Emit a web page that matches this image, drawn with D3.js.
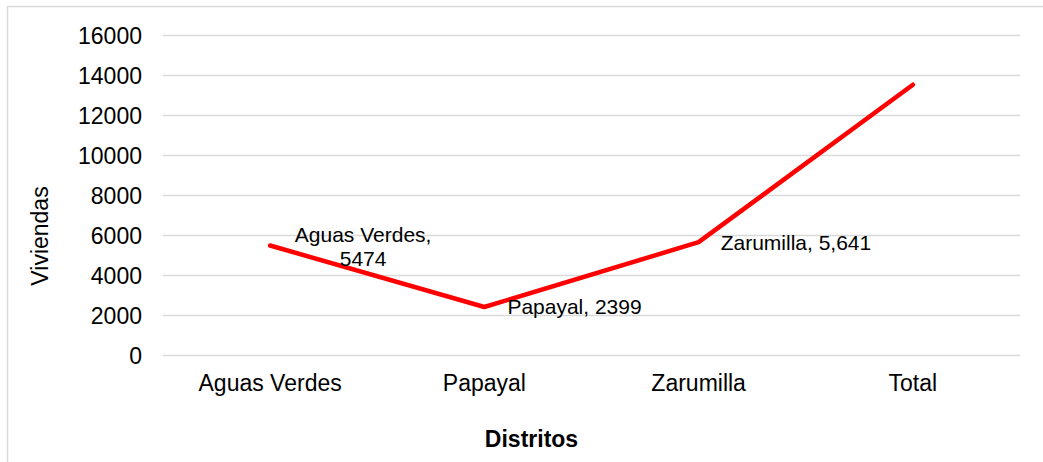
<!DOCTYPE html>
<html>
<head>
<meta charset="utf-8">
<script src="https://cdn.jsdelivr.net/npm/d3@7"></script>
<style>
body{margin:0;background:#fff;}
svg{display:block;font-family:"Liberation Sans",Arial,sans-serif;}
.tick text{fill:#000;font-size:23px;}
.tick line{stroke:#d9d9d9;stroke-width:1.5;}
</style>
</head>
<body>
<svg width="1043" height="462"></svg>
<script>
// data
var categories = ["Aguas Verdes","Papayal","Zarumilla","Total"];
var viviendas = [5474, 2399, 5641, 13514];
var yTicks = [0,2000,4000,6000,8000,10000,12000,14000,16000];
// data label text per point (null = no label), lines split
var pointLabels = [["Aguas Verdes,","5474"],["Papayal, 2399"],["Zarumilla, 5,641"],null];

var svg = d3.select("svg");

// outer chart border
svg.append("rect")
    .attr("x",7.5).attr("y",6.5)
    .attr("width",1100).attr("height",500)
    .attr("fill","none")
    .attr("stroke","#d9d9d9")
    .attr("stroke-width",1.5);

var plot = {left:163, right:1020, top:35, bottom:355};

var xScale = d3.scaleBand()
    .domain(categories)
    .range([plot.left,plot.right]);
var yScale = d3.scaleLinear()
    .domain([0,16000])
    .range([plot.bottom,plot.top]);

var cx = function(c){ return xScale(c)+xScale.bandwidth()/2; }

// y axis + gridlines
var yAxis = d3.axisLeft(yScale)
    .tickValues(yTicks)
    .tickFormat(d3.format("d"))
    .tickSize(-(plot.right-plot.left))
    .tickPadding(21);
svg.append("g")
    .attr("transform","translate("+plot.left+",0)")
    .call(yAxis)
    .call(function(g){ g.select(".domain").remove(); })
    .selectAll("text").attr("dy","0.36em");

// x axis labels
var xAxis = d3.axisBottom(xScale).tickSize(0).tickPadding(20);
svg.append("g")
    .attr("transform","translate(0,"+plot.bottom+")")
    .call(xAxis)
    .call(function(g){ g.select(".domain").remove(); })
    .selectAll("text").attr("dy","0.71em");

// line
var line = d3.line()
    .x(function(d,i){ return cx(categories[i]); })
    .y(function(d){ return yScale(d); });
svg.append("path")
    .datum(viviendas)
    .attr("fill","none")
    .attr("stroke","#ff0000")
    .attr("stroke-width",4.5)
    .attr("stroke-linejoin","round")
    .attr("stroke-linecap","round")
    .attr("d",line);

// data labels
var labelPos = [
    {dx:93, dy:-4, anchor:"middle"},
    {dx:23, dy:7, anchor:"start"},
    {dx:22, dy:8, anchor:"start"},
    null
];
pointLabels.forEach(function(lines,i){
    if(!lines) return;
    var p = labelPos[i];
    var t = svg.append("text")
        .attr("font-size","21px")
        .attr("fill","#000")
        .attr("text-anchor",p.anchor)
        .attr("x",cx(categories[i])+p.dx)
        .attr("y",yScale(viviendas[i])+p.dy);
    lines.forEach(function(s,j){
        t.append("tspan")
            .attr("x",cx(categories[i])+p.dx)
            .attr("dy",j==0?0:24)
            .text(s);
    });
});

// axis titles
svg.append("text")
    .text("Distritos")
    .attr("font-size","23px")
    .attr("font-weight","bold")
    .attr("text-anchor","middle")
    .attr("x",(plot.left+plot.right)/2 - 60)
    .attr("y",447);

svg.append("g")
    .attr("transform","translate(48,236)")
    .append("text")
    .text("Viviendas")
    .attr("font-size","23px")
    .attr("text-anchor","middle")
    .attr("transform","rotate(-90)");
</script>
</body>
</html>
